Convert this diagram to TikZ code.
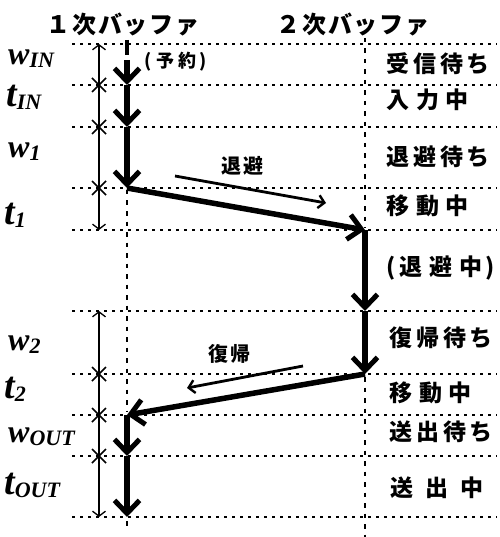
\documentclass[tikz,border=0pt]{standalone}
\usepackage{fontspec}
\setmainfont{Liberation Serif}
\newfontfamily\jp{Noto Sans CJK JP}
\usetikzlibrary{arrows.meta}
\tikzset{
  hdot/.style={line width=1.5pt, dash pattern=on 2.5pt off 5.5pt},
  vdot/.style={line width=2.6pt, dash pattern=on 4.5pt off 6pt},
  flow/.style={line width=5.5pt, -{Straight Barb[length=13pt,width=25pt,line width=5pt]}},
  move/.style={line width=2.8pt, -{Straight Barb[length=6pt,width=13pt,line width=2.4pt]}},
  dim/.style={line width=1.3pt, {Straight Barb[length=5pt,width=13pt]}-{Straight Barb[length=5pt,width=13pt]}},
  cross/.style={line width=1.6pt},
  title/.style={anchor=west, inner sep=0pt, font=\jp\bfseries\fontsize{24}{24}\selectfont\addfontfeature{LetterSpace=8}},
  state/.style={anchor=west, inner sep=0pt, font=\jp\bfseries\fontsize{23}{23}\selectfont},
  small/.style={inner sep=0pt, font=\jp\bfseries\fontsize{20}{20}\selectfont},
  var/.style={anchor=base west, inner sep=0pt, font=\bfseries\itshape},
}
\newcommand\wv[1]{\fontsize{32}{32}\selectfont w\fontsize{22}{22}\selectfont\raisebox{-3pt}{#1}}
\newcommand\tv[1]{\fontsize{38}{38}\selectfont t\fontsize{22}{22}\selectfont\raisebox{-3pt}{#1}}
\begin{document}
\begin{tikzpicture}[x=1pt,y=-1pt]
\useasboundingbox (0,0) rectangle (499,537);
% horizontal dotted rows
\foreach \yy in {44,85,127,188,230,311,374,415,456,517}
  \draw[hdot] (72,\yy) -- (497,\yy);
% buffer columns
\draw[vdot] (127,190) -- (127,412);
\draw[line width=3.5pt] (127,40) -- (127,55);
\draw[vdot] (127,521) -- (127,530);
\draw[vdot] (365,38) -- (365,228);
\draw[vdot] (365,377) -- (365,537);
% titles
\node[title] (t1) at (46,25) {１次バッファ};
\node[title] (t2) at (276,25) {２次バッファ};
% dimension lines
\coordinate (da) at (99,44);
\coordinate (db) at (99,230);
\coordinate (dc) at (99,311);
\coordinate (dd) at (99,517);
\draw[dim] (da) -- (db);
\draw[dim] (dc) -- (dd);
\foreach \yy in {85,127,188,374,415,456}
  \draw[cross] (99,\yy) +(-7,-7) -- +(7,7) +(-7,7) -- +(7,-7);
% main flow
\coordinate (p0) at (127,60);
\coordinate (p1) at (127,85);
\coordinate (p2) at (127,127);
\coordinate (p3) at (127,188);
\coordinate (s1) at (365,230);
\coordinate (s2) at (365,311);
\coordinate (s3) at (365,374);
\coordinate (q1) at (127,415);
\coordinate (q2) at (127,456);
\coordinate (q3) at (127,517);
\draw[flow] (p0) -- (p1);
\draw[flow] (p1) -- (p2);
\draw[flow] (p2) -- (p3);
\draw[flow] (p3) -- (s1);
\draw[flow] (s1) -- (s2);
\draw[flow] (s2) -- (s3);
\draw[flow] (s3) -- (q1);
\draw[flow] (q1) -- (q2);
\draw[flow] (q2) -- (q3);
% move arrows
\coordinate (m1a) at (175,176);
\coordinate (m1b) at (326,203);
\coordinate (m2a) at (303,366);
\coordinate (m2b) at (187,388);
\draw[move] (m1a) -- (m1b);
\draw[move] (m2a) -- (m2b);
\node[small] (lt) at (242,166) {退\hspace{2pt}避};
\node[small] (lr) at (229,354) {復\hspace{2pt}帰};
\node[small, anchor=west] (yk) at (144,62) {\fontsize{18}{18}\selectfont(\hspace{5pt}予\hspace{4pt}約\hspace{3pt})};
% variables
\node[var] (v1) at (8,65) {\wv{IN}};
\node[var] (v2) at (6,107) {\tv{IN}};
\node[var] (v3) at (8,158) {\wv{1}};
\node[var] (v4) at (4,224) {\tv{1}};
\node[var] (v5) at (8,350) {\wv{2}};
\node[var] (v6) at (4,398) {\tv{2}};
\node[var] (v7) at (8,442) {\wv{OUT}};
\node[var] (v8) at (4,494) {\tv{OUT}};
% states
\node[state] (r1) at (386,64) {\addfontfeature{LetterSpace=17}受信待ち};
\node[state] (r2) at (386,100) {\addfontfeature{LetterSpace=30}入力中};
\node[state] (r3) at (386,157) {\addfontfeature{LetterSpace=17}退避待ち};
\node[state] (r4) at (386,206) {\addfontfeature{LetterSpace=30}移動中};
\node[state] (r5) at (386,268) {(\hspace{4pt}退\hspace{7pt}避\hspace{7pt}中\hspace{3pt})};
\node[state] (r6) at (389,338) {\addfontfeature{LetterSpace=17}復帰待ち};
\node[state] (r7) at (389,393) {\addfontfeature{LetterSpace=30}移動中};
\node[state] (r8) at (389,432) {\addfontfeature{LetterSpace=17}送出待ち};
\node[state] (r9) at (390,488) {\addfontfeature{LetterSpace=52}送出中};
\end{tikzpicture}
\end{document}
